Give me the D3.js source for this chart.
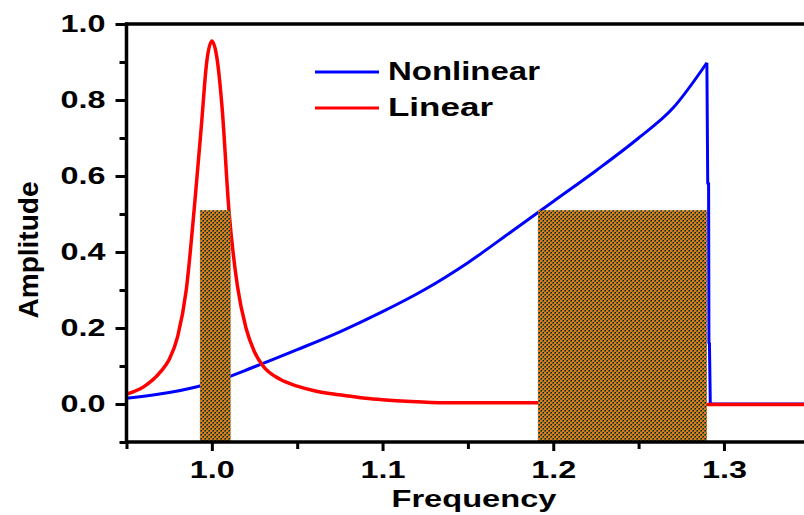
<!DOCTYPE html>
<html><head><meta charset="utf-8">
<script src="https://cdn.jsdelivr.net/npm/d3@7"></script>
<style>
body{margin:0;background:#fff;}
svg{display:block;}
text{font-family:"Liberation Sans",Arial,sans-serif;font-weight:bold;fill:#000;}
</style></head>
<body><svg id="chart" width="804" height="515"></svg>
<script>
// ---- data ----
const linearX = [0.95,0.96,0.97,0.975,0.98,0.985,0.99,0.994,0.997,1.0,1.003,1.006,1.01,1.015,1.02,1.025,1.03,1.04,1.05,1.06,1.07,1.08,1.09,1.10,1.12,1.14,1.19,1.29,1.35];
const linearY = [0.026,0.045,0.085,0.117,0.178,0.30,0.53,0.74,0.9,0.955,0.91,0.78,0.51,0.31,0.2,0.137,0.1,0.065,0.047,0.035,0.027,0.021,0.015,0.011,0.006,0.003,0.003,-0.001,-0.001];
const nonlinearX = [0.95,0.975,1.0,1.025,1.05,1.075,1.1,1.125,1.15,1.175,1.2,1.225,1.25,1.27,1.29,1.2905,1.291,1.2912,1.2915,1.292,1.30,1.35];
const nonlinearY = [0.015,0.03,0.056,0.098,0.143,0.19,0.243,0.302,0.372,0.452,0.533,0.614,0.7,0.778,0.898,0.58,0.58,0.16,0.16,0.0,0.0,0.0];
const barStart = [0.993,1.191];
const barEnd = [1.011,1.29];
const barTop = [0.51,0.51];
const xMajorTicks = [1.0,1.1,1.2,1.3];
const xMinorTicks = [0.95,1.05,1.15,1.25,1.35];
const yMajorTicks = [0.0,0.2,0.4,0.6,0.8,1.0];
const yMinorTicks = [-0.1,0.1,0.3,0.5,0.7,0.9];
const seriesNames = ["Nonlinear","Linear"];
const seriesColors = ["#0000ff","#ff0000"];

const svg = d3.select("#chart");
const pLeft = 126.5, pTop = 24, pBottom = 442;
const x = d3.scaleLinear().domain([0.95,1.35]).range([pLeft, pLeft + 0.4*1707]);
const y = d3.scaleLinear().domain([-0.1,1.0]).range([pBottom, pTop]);

const defs = svg.append("defs");
defs.append("clipPath").attr("id","plotclip").append("rect")
  .attr("x",pLeft).attr("y",pTop).attr("width",900).attr("height",pBottom-pTop);
const pat = defs.append("pattern").attr("id","dots").attr("width",4).attr("height",4)
  .attr("patternUnits","userSpaceOnUse");
pat.append("rect").attr("width",4).attr("height",4).attr("fill","#5a6428");
pat.append("rect").attr("x",0).attr("y",0).attr("width",2).attr("height",2).attr("fill","#e07a1a");
pat.append("rect").attr("x",2).attr("y",2).attr("width",2).attr("height",2).attr("fill","#e07a1a");
[[3,0],[1,2]].forEach(p=>pat.append("rect").attr("x",p[0]).attr("y",p[1]).attr("width",1).attr("height",1).attr("fill","#141414"));
pat.selectAll("rect").attr("shape-rendering","crispEdges");

const plot = svg.append("g").attr("clip-path","url(#plotclip)");
const smooth = d3.line().x(d=>x(d[0])).y(d=>y(d[1])).curve(d3.curveMonotoneX);
const straight = d3.line().x(d=>x(d[0])).y(d=>y(d[1]));
const nonlinear = d3.zip(nonlinearX, nonlinearY);
const linear = d3.zip(linearX, linearY);
const peakIdx = d3.maxIndex(nonlinearY);

plot.append("path").datum(nonlinear.slice(0, peakIdx+1)).attr("d", smooth)
  .attr("fill","none").attr("stroke",seriesColors[0]).attr("stroke-width",3);
plot.append("path").datum(nonlinear.slice(peakIdx)).attr("d", straight)
  .attr("fill","none").attr("stroke",seriesColors[0]).attr("stroke-width",3).attr("stroke-linejoin","round");
plot.append("path").datum(linear).attr("d", smooth)
  .attr("fill","none").attr("stroke",seriesColors[1]).attr("stroke-width",3.5);

plot.selectAll("rect.bar").data(d3.range(barStart.length)).enter().append("rect")
  .attr("class","bar")
  .attr("x",i=>x(barStart[i])).attr("width",i=>x(barEnd[i])-x(barStart[i]))
  .attr("y",i=>y(barTop[i])).attr("height",i=>y(-0.1)-y(barTop[i]))
  .attr("fill","url(#dots)");

// axes
const yAxis = d3.axisLeft(y).tickValues(yMajorTicks).tickSize(11).tickPadding(10).tickFormat(d3.format(".1f"));
const gy = svg.append("g").attr("transform",`translate(${pLeft},0)`).call(yAxis);
gy.selectAll("text").attr("font-size",23).attr("textLength",45).attr("lengthAdjust","spacingAndGlyphs").attr("dy","0.34em");
const gy2 = svg.append("g").attr("transform",`translate(${pLeft},0)`).call(d3.axisLeft(y).tickValues(yMinorTicks).tickSize(7).tickFormat(""));

const xAxis = d3.axisBottom(x).tickValues(xMajorTicks).tickSize(9).tickPadding(11).tickFormat(d3.format(".1f"));
const gx = svg.append("g").attr("transform",`translate(0,${pBottom})`).call(xAxis);
gx.selectAll("text").attr("font-size",23).attr("textLength",45).attr("lengthAdjust","spacingAndGlyphs");
const gx2 = svg.append("g").attr("transform",`translate(0,${pBottom})`).call(d3.axisBottom(x).tickValues(xMinorTicks).tickSize(7).tickFormat(""));

[gy,gy2,gx,gx2].forEach(g=>{
  g.select(".domain").remove();
  g.selectAll("line").attr("stroke","#000").attr("stroke-width",3);
  g.selectAll("text").attr("fill","#000").attr("font-family",null);
});
// frame lines
svg.append("line").attr("x1",pLeft).attr("x2",pLeft).attr("y1",pTop-1.5).attr("y2",pBottom+1.5).attr("stroke","#000").attr("stroke-width",3.5);
svg.append("line").attr("x1",pLeft-1.5).attr("x2",804).attr("y1",pBottom).attr("y2",pBottom).attr("stroke","#000").attr("stroke-width",3.5);
svg.append("line").attr("x1",pLeft-1.5).attr("x2",804).attr("y1",pTop).attr("y2",pTop).attr("stroke","#000").attr("stroke-width",3.5);

// axis titles
svg.append("text").attr("x",474).attr("y",507).attr("text-anchor","middle").attr("font-size",23)
  .attr("textLength",165).attr("lengthAdjust","spacingAndGlyphs").text("Frequency");
svg.append("text").attr("transform","translate(38,250) rotate(-90)").attr("text-anchor","middle").attr("font-size",27)
  .attr("textLength",137).attr("lengthAdjust","spacingAndGlyphs").text("Amplitude");

// legend
const legY = [72,108];
const leg = svg.append("g");
seriesNames.forEach((n,i)=>{
  leg.append("line").attr("x1",315).attr("x2",379).attr("y1",legY[i]).attr("y2",legY[i])
    .attr("stroke",seriesColors[i]).attr("stroke-width",3);
  leg.append("text").attr("x",388).attr("y",legY[i]+8).attr("font-size",26)
    .attr("textLength",i===0?152:105).attr("lengthAdjust","spacingAndGlyphs").text(n);
});
</script></body></html>
